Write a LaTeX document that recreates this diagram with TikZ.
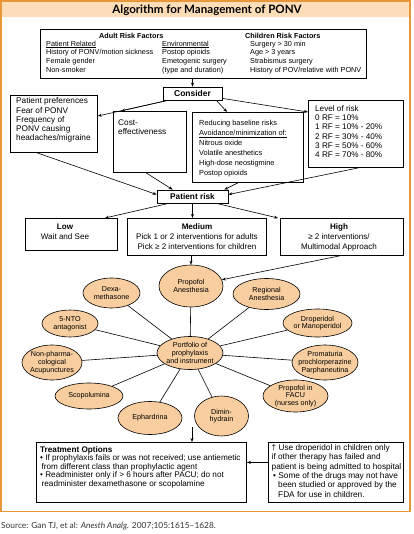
\documentclass[tikz,border=0pt]{standalone}
\usepackage{fontspec}
\setmainfont{Liberation Sans}
\newfontfamily\titlefnt{Lato}
\usetikzlibrary{shapes.geometric,arrows.meta}
\definecolor{frameor}{HTML}{E8963A}
\definecolor{bandpeach}{HTML}{FDDDB8}
\definecolor{ellfill}{HTML}{F8CEA0}
\newcommand{\setfs}[2]{\fontsize{#1}{#2}\selectfont}
\begin{document}
\begin{tikzpicture}[x=1bp,y=-1bp,
  box/.style={draw, line width=0.8bp, inner sep=0, anchor=north west},
  txt/.style={inner sep=0, anchor=north west, align=left},
  ctxt/.style={inner sep=0, anchor=north, align=center},
  smallbox/.style={draw, line width=0.8bp, inner sep=0, font=\bfseries\setfs{8.3}{10}},
  ell/.style={ellipse, draw=black, line width=0.6bp, fill=ellfill, inner xsep=-10bp, inner ysep=-4bp, align=center, font=\setfs{7.2}{7.7}},
  arr/.style={-{Stealth[length=4bp,width=3bp]}, line width=0.6bp},
  con/.style={line width=0.6bp}]
\useasboundingbox (0,0) rectangle (413,534);
% frame and title band
\fill[bandpeach] (1,1) rectangle (410,17);
\draw[frameor, line width=1.6bp] (1,0.8) rectangle (410.2,511.5);
\node[font=\titlefnt\bfseries\setfs{11.6}{13}, anchor=base, inner sep=0] (title) at (207,14) {Algorithm for Management of PONV};

% risk factors
\node[box, minimum width=326bp, minimum height=49bp] (rf) at (40,29) {};
\node[txt, font=\bfseries\setfs{7.3}{8.8}] (adult) at (99,33.2) {Adult Risk Factors};
\node[txt, font=\bfseries\setfs{7.3}{8.8}] (child) at (245,33.2) {Children Risk Factors};
\node[txt, font=\setfs{7.3}{8.8}] (patrel) at (46,40.6) {\underline{Patient Related}\\History of PONV/motion sickness\\Female gender\\Non-smoker};
\node[txt, font=\setfs{7.3}{8.8}] (envt) at (162,40.6) {\underline{Environmental}\\Postop opioids\\Emetogenic surgery\\(type and duration)};
\node[txt, font=\setfs{7.3}{8.8}] (childf) at (250,40.6) {Surgery > 30 min\\Age > 3 years\\Strabismus surgery\\History of POV/relative with PONV};

% consider
\node[smallbox, minimum width=59bp, minimum height=13bp, font=\bfseries\setfs{8.5}{10}] (cons) at (192.5,93.5) {Consider};

% four boxes
\node[box, minimum width=87bp, minimum height=57bp] (pp) at (10,95) {};
\node[txt, font=\setfs{8.3}{9.2}] (pptxt) at (16,97.8) {Patient preferences\\Fear of PONV\\Frequency of\\PONV causing\\headaches/migraine};
\node[box, minimum width=73bp, minimum height=61bp] (cost) at (113,111) {};
\node[txt, font=\setfs{8.3}{9.3}] (costtxt) at (118,119.5) {Cost-\\effectiveness};
\node[box, minimum width=111bp, minimum height=70bp] (red) at (192,112) {};
\node[txt, font=\setfs{7.4}{10}] (redtxt) at (199,120.3) {Reducing baseline risks\\\underline{Avoidance/minimization of:}\\Nitrous oxide\\Volatile anesthetics\\High-dose neostigmine\\Postop opioids};
\node[box, minimum width=95bp, minimum height=67bp] (lvl) at (308,100) {};
\node[txt, font=\setfs{8.2}{9.3}] (lvltxt) at (315,105.1) {Level of risk\\0 RF = 10\%\\1 RF = 10\% - 20\%\\2 RF = 30\% - 40\%\\3 RF = 50\% - 60\%\\4 RF = 70\% - 80\%};

% patient risk
\node[smallbox, minimum width=71bp, minimum height=13bp] (pr) at (192.5,196.5) {Patient risk};

\node[box, minimum width=92bp, minimum height=32bp] (low) at (25,218) {};
\node[ctxt, font=\setfs{8.1}{10}] (lowtxt) at (65,223.5) {\textbf{Low}\\Wait and See};
\node[box, minimum width=139bp, minimum height=37bp] (med) at (127,218) {};
\node[ctxt, font=\setfs{8.1}{10}] (medtxt) at (197,223.5) {\textbf{Medium}\\Pick 1 or 2 interventions for adults\\Pick ≥ 2 interventions for children};
\node[box, minimum width=123bp, minimum height=37bp] (high) at (280,218) {};
\node[ctxt, font=\setfs{8.1}{10}] (hightxt) at (339,223.5) {\textbf{High}\\≥ 2 interventions/\\Multimodal Approach};

% ellipses
\node[ell, minimum width=64bp, minimum height=42bp] (propA) at (191,286) {Propofol\\Anesthesia};
\node[ell, minimum width=67bp, minimum height=31bp] (regA) at (266.5,294) {Regional\\Anesthesia};
\node[ell, minimum width=57bp, minimum height=30bp] (dexa) at (111.5,293) {Dexa-\\methasone};
\node[ell, minimum width=56bp, minimum height=27bp] (nto) at (70,323.5) {5-NTO\\antagonist};
\node[ell, minimum width=60bp, minimum height=35bp] (nonph) at (52,362.5) {Non-pharma-\\cological\\Acupunctures};
\node[ell, minimum width=68bp, minimum height=26bp] (scop) at (89,396) {Scopolumina};
\node[ell, minimum width=64bp, minimum height=33bp] (ephd) at (150,418) {Ephardrina};
\node[ell, minimum width=54bp, minimum height=40bp] (dimin) at (221.5,416) {Dimin-\\hydrain};
\node[ell, minimum width=65bp, minimum height=32bp] (pfacu) at (295.5,396) {Propofol in\\FACU\\(nurses only)};
\node[ell, minimum width=66bp, minimum height=35bp] (proma) at (325,362.5) {Promaturia\\prochlorperazine\\Parphaneutina};
\node[ell, minimum width=69bp, minimum height=28bp] (drop) at (317.5,323) {Droperidol\\or Manoperidol};
\node[ell, minimum width=66bp, minimum height=33bp] (port) at (190,353) {Portfolio of\\prophylaxis\\and instrument};

% treatment and note
\node[box, minimum width=210bp, minimum height=60bp] (treat) at (36,442) {};
\node[txt, font=\setfs{8.2}{8.4}] (treattxt) at (40,446.5) {{\bfseries Treatment Options}\\• If prophylaxis fails or was not received; use antiemetic\\\hspace*{1.5bp}from different class than prophylactic agent\\• Readminister only if > 6 hours after PACU; do not\\\hspace*{1.5bp}readminister dexamethasone or scopolamine};
\node[box, minimum width=135bp, minimum height=60bp] (note) at (268,442) {};
\node[txt, font=\setfs{8.3}{9.45}] (notetxt) at (271.5,444) {† Use droperidol in children only\\if other therapy has failed and\\patient is being admitted to hospital\\\hspace*{1.5bp}• Some of the drugs may not have\\\hspace*{6.5bp}been studied or approved by the\\\hspace*{6.5bp}FDA for use in children.};

% source
\node[anchor=base west, inner sep=0, font=\titlefnt\setfs{8.4}{10}, text=black!80] (src) at (1,528) {Source: Gan TJ, et al: \textit{Anesth Analg.} 2007;105:1615–1628.};

% connectors
\draw[arr] (cons.north |- rf.south) -- (cons.north);
\draw[arr] ([xshift=5bp]cons.south west) -- ([yshift=-21bp]pp.north east);
\draw[arr] ([xshift=5bp]cons.south west) -- ([xshift=8bp]cost.north west);
\draw[arr] ([xshift=-6bp]cons.south east) -- ([xshift=35bp]red.north west);
\draw[arr] ([yshift=2bp]cons.south east) -- ([yshift=-12bp]lvl.north west);

\draw[arr] ([xshift=27bp]pp.south west) -- ([yshift=2bp]pr.west);
\draw[arr] ([xshift=33bp]cost.south west) -- ([xshift=16bp]pr.north west);
\draw[arr] ([xshift=46bp]red.south west) -- ([xshift=-4bp]pr.north east);
\draw[arr] ([xshift=-45bp]lvl.south east) -- ([yshift=2bp]pr.east);

\draw[arr] ([xshift=12bp]pr.south west) -- ([xshift=80bp]low.north west);
\draw[arr] (pr.south) -- (pr.south |- med.north);
\draw[arr] ([xshift=-12bp]pr.south east) -- ([xshift=-2bp]high.north west);

\draw[arr] (propA.north |- med.south) -- (propA.north);
\draw[arr] ([xshift=60bp]high.south west) -- (propA);

\foreach \n in {propA,regA,dexa,nto,nonph,scop,ephd,dimin,pfacu,proma,drop}
  \draw[con] (port) -- (\n);

\coordinate (tarr) at (192,427);
\draw[arr] (tarr) -- (tarr |- treat.north);
\coordinate (narr) at ([yshift=10bp]note.west);
\draw[arr] (narr) -- (narr -| treat.east);
\end{tikzpicture}
\end{document}
